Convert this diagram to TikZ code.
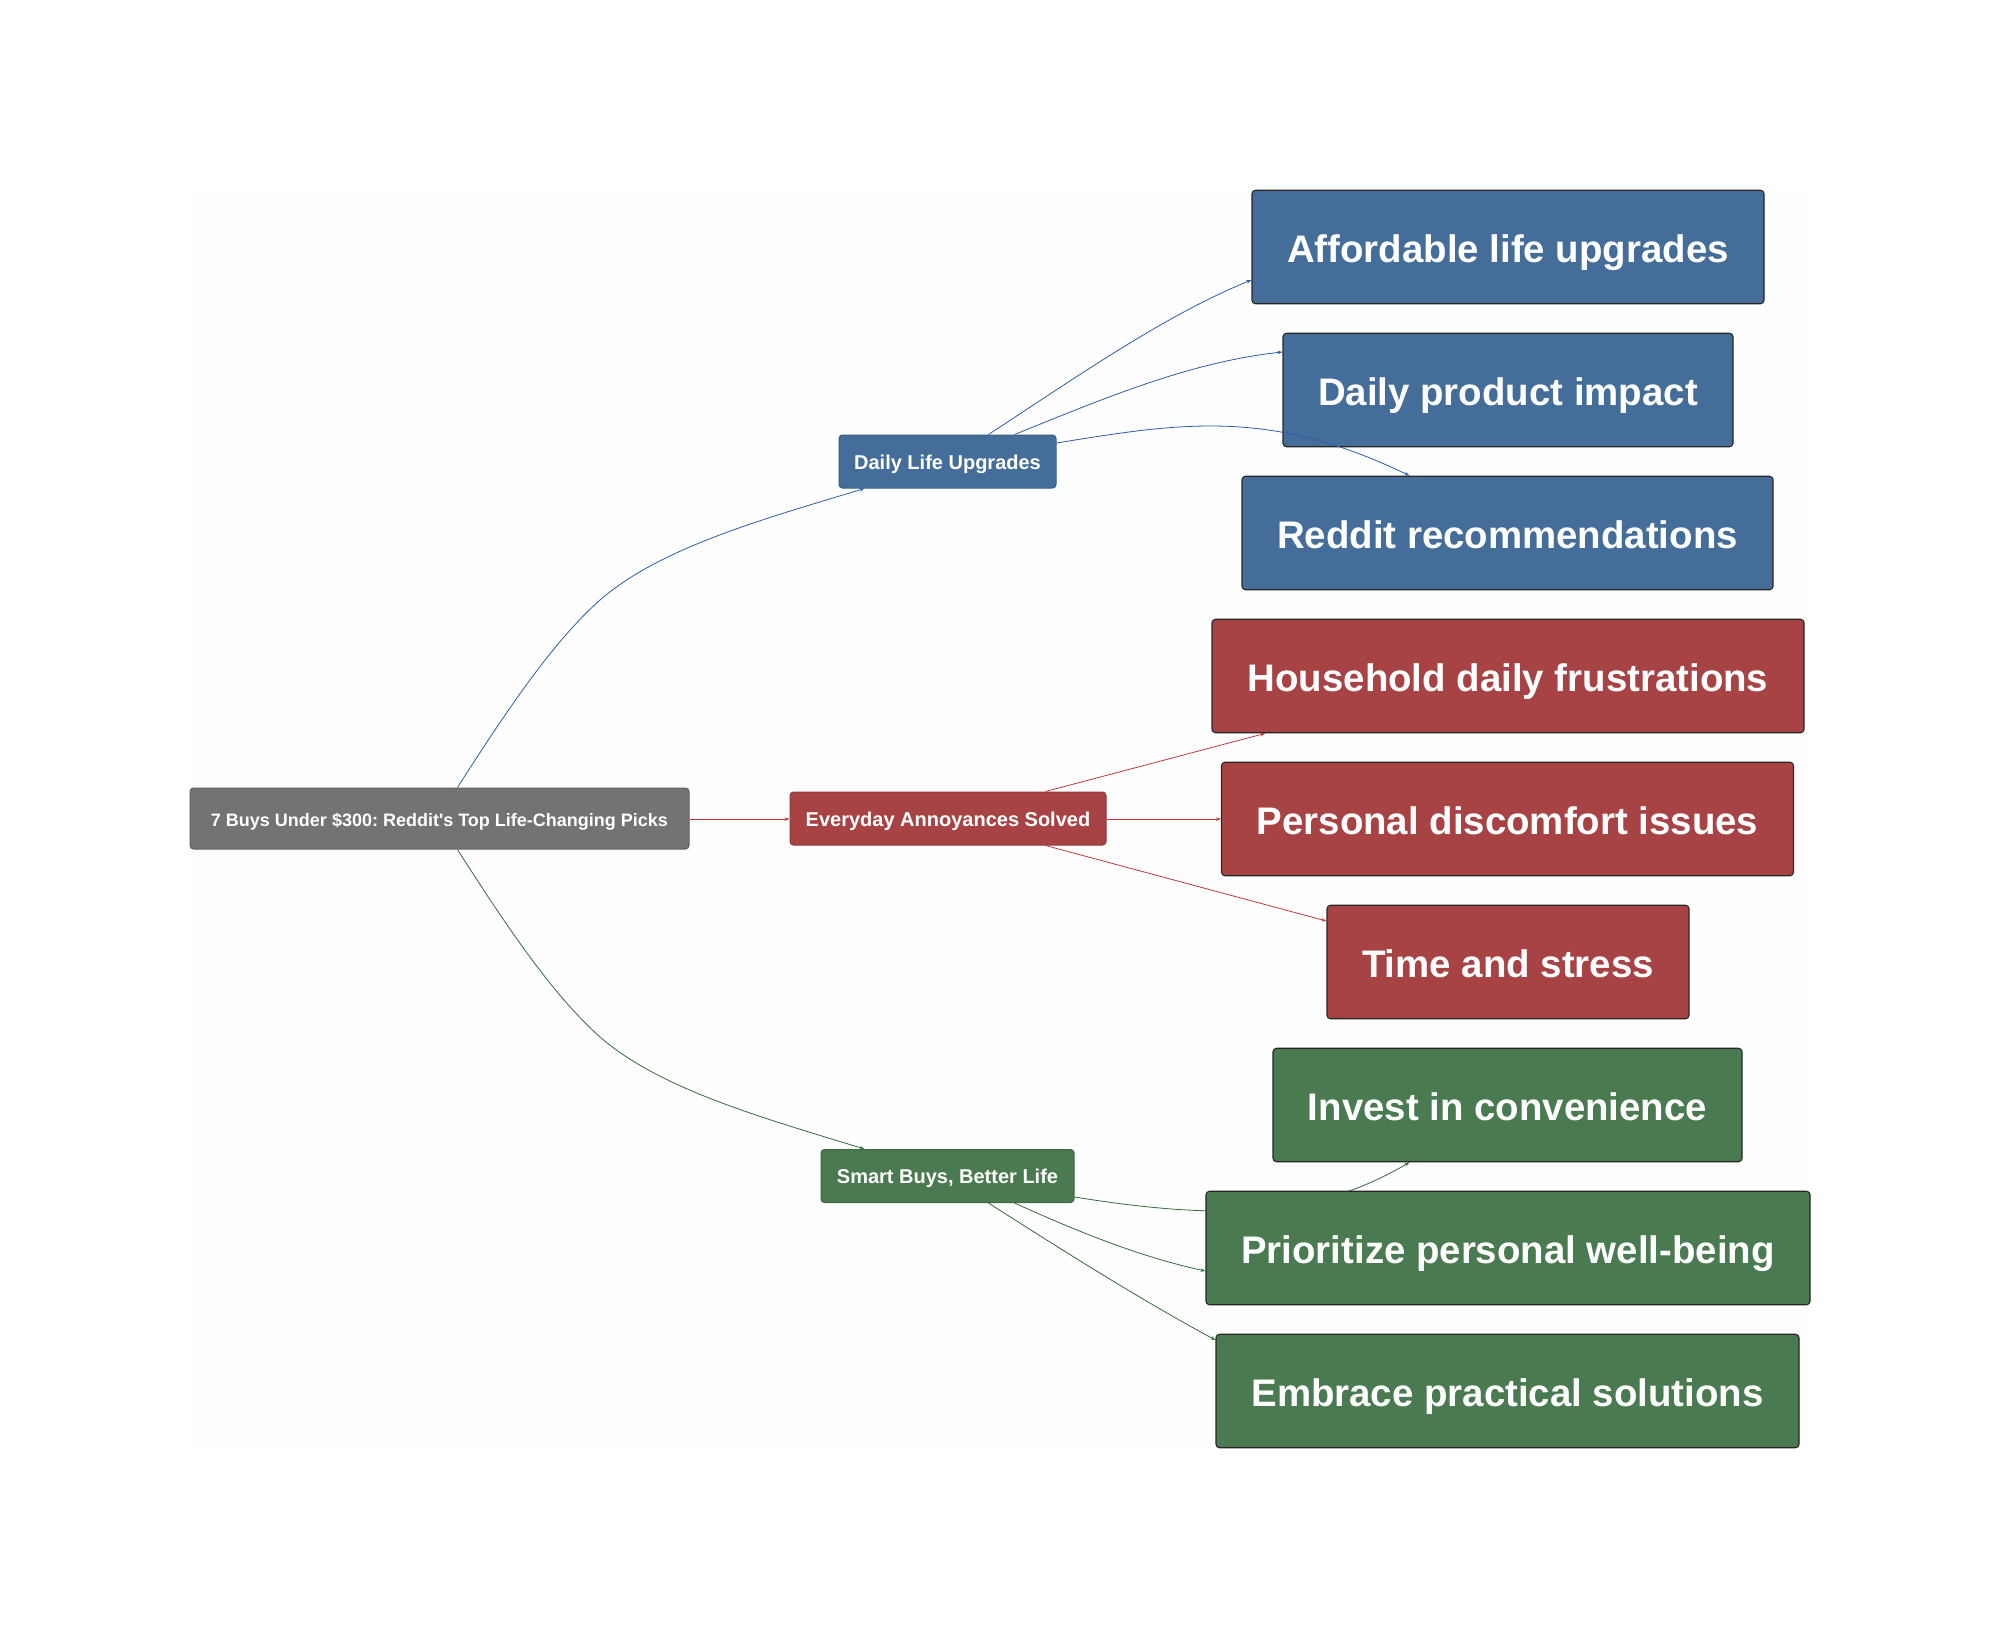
\documentclass[tikz,border=0pt]{standalone}
\usepackage{fontspec}
\setmainfont{Liberation Sans}
\usetikzlibrary{arrows.meta}
\definecolor{bluefill}{HTML}{446E99}
\definecolor{redfill}{HTML}{A84345}
\definecolor{greenfill}{HTML}{4A7A4F}
\definecolor{greyfill}{HTML}{737373}
\definecolor{blueedge}{HTML}{2E5DA8}
\definecolor{rededge}{HTML}{C0383E}
\definecolor{greenedge}{HTML}{336B3A}
\definecolor{bggrey}{HTML}{FEFEFE}
\pgfdeclarelayer{bglayer}
\pgfdeclarelayer{lowedge}
\pgfsetlayers{bglayer,lowedge,main}
\tikzset{
  x=1pt,y=-1pt,
  box/.style={rounded corners=3.5pt,inner sep=0pt,align=center,text=white},
  bigbox/.style={box,draw=black!85,line width=1.1pt,minimum height=113.5pt,text height=30pt,text depth=0pt,font=\frenchspacing\fontsize{38.4}{44}\selectfont\bfseries},
  midbox/.style={box,line width=1pt,minimum height=53pt,text height=15pt,text depth=0pt,font=\frenchspacing\fontsize{20}{24}\selectfont\bfseries},
  conn/.style={line width=0.8pt,-{Stealth[length=5pt,width=3.5pt]}},
  blueconn/.style={conn,draw=blueedge},
  redconn/.style={conn,draw=rededge},
  greenconn/.style={conn,draw=greenedge},
}
\begin{document}
\begin{tikzpicture}
\useasboundingbox (0,0) rectangle (2000,1638);
\begin{pgfonlayer}{bglayer}
\fill[white] (0,0) rectangle (2000,1638);
\fill[bggrey] (189,188) rectangle (1811,1448);
\end{pgfonlayer}
\path
  node[midbox,fill=greyfill,draw=greyfill!85!black,minimum width=499pt,minimum height=61pt,font=\frenchspacing\fontsize{18}{22}\selectfont\bfseries] (root) at (439.5,818.5) {7 Buys Under \$300: Reddit\textquotesingle s Top Life-Changing Picks}
  node[midbox,fill=bluefill,draw=bluefill!85!black,minimum width=217pt] (daily) at (947.5,461.5) {Daily Life Upgrades}
  node[midbox,fill=redfill,draw=redfill!85!black,minimum width=316pt] (every) at (948,818.5) {Everyday Annoyances Solved}
  node[midbox,fill=greenfill,draw=greenfill!85!black,minimum width=253pt] (smart) at (947.5,1176) {Smart Buys, Better Life}
  node[bigbox,fill=bluefill,minimum width=512pt] (a1) at (1508,247) {Affordable life upgrades}
  node[bigbox,fill=bluefill,minimum width=450pt] (a2) at (1508,390) {Daily product impact}
  node[bigbox,fill=bluefill,minimum width=531pt] (a3) at (1507.5,533) {Reddit recommendations}
  node[bigbox,fill=redfill,minimum width=592pt] (b1) at (1508,676) {Household daily frustrations}
  node[bigbox,fill=redfill,minimum width=572pt] (b2) at (1507.5,819) {Personal discomfort issues}
  node[bigbox,fill=redfill,minimum width=362pt] (b3) at (1508,962) {Time and stress}
  node[bigbox,fill=greenfill,minimum width=469pt] (c1) at (1507.5,1105) {Invest in convenience}
  node[bigbox,fill=greenfill,minimum width=583pt] (c3) at (1507.5,1391) {Embrace practical solutions};
\draw[blueconn] ([xshift=268pt]root.north west) .. controls (510,705) and (555,640) .. (600,600) .. controls (660,548) and (760,520) .. ([xshift=26pt]daily.south west);
\draw[greenconn] ([xshift=268pt]root.south west) .. controls (510,932) and (555,997) .. (600,1037) .. controls (660,1089) and (760,1117) .. ([xshift=44pt]smart.north west);
\draw[redconn] ([yshift=-.5pt]root.east) -- ([yshift=-.5pt]every.west);
\draw[blueconn] ([xshift=150pt]daily.north west) .. controls (1075,378) and (1165,315) .. (a1.west |- 0,280);
\draw[blueconn] ([xshift=176pt]daily.north west) .. controls (1105,398) and (1190,362) .. (a2.west |- 0,352);
\draw[blueconn] (daily.east |- 0,443) .. controls (1180,423) and (1270,408) .. ([xshift=168pt]a3.north west);
\draw[redconn] ([xshift=256pt]every.north west) -- ([xshift=54pt]b1.south west);
\draw[redconn] ([yshift=-.5pt]every.east) -- (b2.west);
\draw[redconn] ([xshift=256pt]every.south west) -- (b3.west |- 0,921);
\begin{pgfonlayer}{lowedge}
\draw[greenconn] (smart.east |- 0,1197) .. controls (1230,1222) and (1320,1215) .. ([xshift=137pt]c1.south west);
\end{pgfonlayer}
\node[bigbox,fill=greenfill,minimum width=604pt] (c2) at (1508,1248) {Prioritize personal well-being};
\draw[greenconn] ([xshift=194pt]smart.south west) .. controls (1085,1235) and (1145,1258) .. (c2.west |- 0,1271);
\draw[greenconn] ([xshift=168pt]smart.south west) .. controls (1068,1254) and (1145,1302) .. (c3.west |- 0,1340);
\end{tikzpicture}
\end{document}
